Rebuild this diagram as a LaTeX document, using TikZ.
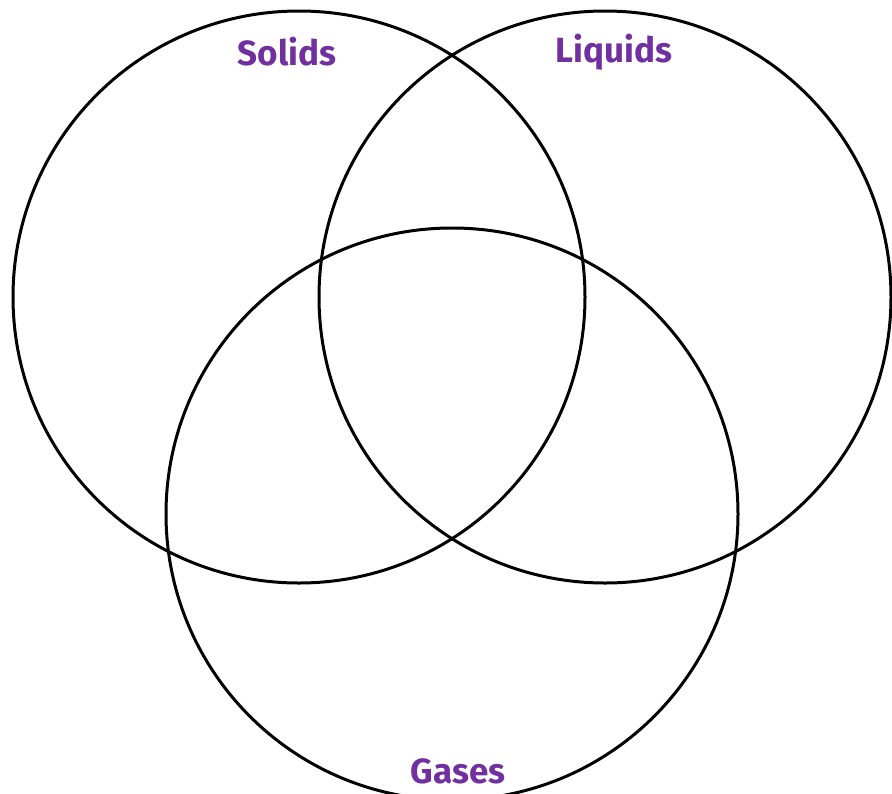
\documentclass[tikz,border=0pt]{standalone}
\usepackage{fontspec}
\newfontfamily\vennfont{Fira Sans}
\usepackage{tikz}
\definecolor{vennpurple}{HTML}{7030A0}
\tikzset{
  venncircle/.style={draw=black, line width=3pt},
  vennlabel/.style={text=vennpurple, font=\vennfont\bfseries\fontsize{35}{42}\selectfont}
}

\begin{document}
\begin{tikzpicture}[x=1pt,y=-1pt]

% Rahmen
\clip (0,0) rectangle (892,793);

% Kreise
\draw[venncircle] (299,297) circle (286); % Solids
\draw[venncircle] (605,297) circle (286); % Liquids
\draw[venncircle] (452,514) circle (286); % Gases

% Beschriftungen
\node[vennlabel] (solids) at (287,52) {Solids};
\node[vennlabel] (liquids) at (614,52) {Liquids};
\node[vennlabel] (gases) at (458,771) {Gases};

\end{tikzpicture}
\end{document}
